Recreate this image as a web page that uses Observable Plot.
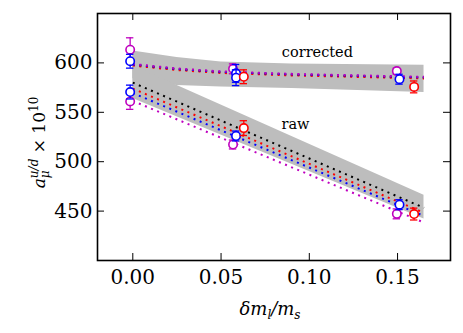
<!DOCTYPE html>
<html><head><meta charset="utf-8">
<script src="https://cdn.jsdelivr.net/npm/d3@7"></script>
<script src="https://cdn.jsdelivr.net/npm/@observablehq/plot@0.6"></script>
<style>body{margin:0;background:#fff} svg{font-family:"DejaVu Serif",serif}</style>
</head><body><div id="chart"></div>
<script>
const xTicks = [0, 0.05, 0.10, 0.15];
const yTicks = [450, 500, 550, 600];

// grey bands
const bandX = [0, 0.025, 0.05, 0.09, 0.165];
const corrUpper = [612, 605.5, 601, 599, 597.5];
const corrLower = [584, 577, 575.5, 574, 570];
const rawBandX = [0, 0.165];
const rawUpper = [597, 466];
const rawLower = [564, 442];

// dotted fit lines
const corrLineX = [0, 0.025, 0.05, 0.09, 0.165];
const corrBlack = [598, 593.5, 590.5, 588, 585];
const corrRed = [597.3, 592.8, 589.8, 587.3, 584.3];
const corrBlue = [598.4, 593.9, 590.9, 588.4, 585.4];
const corrMagenta = [598.9, 594.4, 591.4, 588.9, 585.9];
const rawLineX = [0, 0.165];
const rawBlack = [580, 453.3];
const rawRed = [574, 448.3];
const rawBlue = [569.5, 445];
const rawMagenta = [561.5, 438.4];

// data points
const magX = [-0.0015, 0.0568, 0.1496];
const blueX = [-0.0015, 0.0585, 0.1511];
const redX = [0.0629, 0.1594];
const corrMagY = [613.4, 594, 591.7], corrMagE = [12, 5, 3];
const corrBlueY = [601.7, 589.4, 583.5], corrBlueE = [7, 9, 5];
const corrBlue2X = [0.0585], corrBlue2Y = [585], corrBlue2E = [8];
const corrRedY = [586, 575.7], corrRedE = [7, 6];
const rawMagY = [561, 517.4, 447.2], rawMagE = [8, 4.5, 5];
const rawBlueY = [570.5, 526, 456.5], rawBlueE = [7, 5, 5];
const rawRedY = [534, 447], rawRedE = [7.5, 6];

const labelText = ["corrected", "raw"];
const labelX = [0.1046, 0.0922];
const labelY = [610.3, 538.2];

const MAG = "#bf00bf", BLUE = "#0000ff", RED = "#ff0000";

const W = 463, H = 333, mL = 97, mR = 13, mT = 13, mB = 73;
const iW = W - mL - mR, iH = H - mT - mB;

const zipBand = (xs, lo, hi) => xs.map((x, i) => ({x, y1: lo[i], y2: hi[i]}));
const zipLine = (xs, ys) => xs.map((x, i) => ({x, y: ys[i]}));
const zipPts = (xs, ys, es) => xs.map((x, i) => ({x, y: ys[i], e: es[i]}));

const dotted = {strokeWidth: 2, strokeDasharray: "2,4.6", strokeLinecap: "butt"};
const lineMarks = [];
for (const [ys, c] of [[corrBlack, "black"], [corrRed, RED], [corrBlue, BLUE], [corrMagenta, MAG]])
  lineMarks.push(Plot.line(zipLine(corrLineX, ys), {x: "x", y: "y", stroke: c, ...dotted}));
for (const [ys, c] of [[rawBlack, "black"], [rawRed, RED], [rawBlue, BLUE], [rawMagenta, MAG]])
  lineMarks.push(Plot.line(zipLine(rawLineX, ys), {x: "x", y: "y", stroke: c, ...dotted}));

function pts(data, c) {
  return [
    Plot.ruleX(data, {x: "x", y1: d => d.y - d.e, y2: d => d.y + d.e, stroke: c, strokeWidth: 1.3}),
    Plot.ruleY(data, {y: d => d.y - d.e, x1: d => d.x - 0.0021, x2: d => d.x + 0.0021, stroke: c, strokeWidth: 1.3}),
    Plot.ruleY(data, {y: d => d.y + d.e, x1: d => d.x - 0.0021, x2: d => d.x + 0.0021, stroke: c, strokeWidth: 1.3}),
    Plot.dot(data, {x: "x", y: "y", r: 4.2, fill: "white", stroke: c, strokeWidth: 1.6})
  ];
}

const plot = Plot.plot({
  width: W, height: H,
  marginLeft: mL, marginRight: mR, marginTop: mT, marginBottom: mB,
  x: {domain: [-0.02, 0.18]},
  y: {domain: [400, 650]},
  style: {fontFamily: "DejaVu Serif, serif", background: "white"},
  marks: [
    Plot.areaY(zipBand(bandX, corrLower, corrUpper), {x: "x", y1: "y1", y2: "y2", fill: "#bdbdbd"}),
    Plot.areaY(zipBand(rawBandX, rawLower, rawUpper), {x: "x", y1: "y1", y2: "y2", fill: "#bdbdbd"}),
    ...lineMarks,
    ...pts(zipPts(magX, corrMagY, corrMagE), MAG),
    ...pts(zipPts(blueX, corrBlueY, corrBlueE), BLUE),
    ...pts(zipPts(corrBlue2X, corrBlue2Y, corrBlue2E), BLUE),
    ...pts(zipPts(redX, corrRedY, corrRedE), RED),
    ...pts(zipPts(magX, rawMagY, rawMagE), MAG),
    ...pts(zipPts(blueX, rawBlueY, rawBlueE), BLUE),
    ...pts(zipPts(redX, rawRedY, rawRedE), RED),
    Plot.text(labelText.map((t, i) => ({t, x: labelX[i], y: labelY[i]})), {x: "x", y: "y", text: "t", fontSize: 14.5, fill: "black", textAnchor: "middle", lineAnchor: "middle"}),
    // inward ticks
    Plot.ruleX(xTicks, {x: d => d, insetTop: iH - 7, stroke: "black", strokeWidth: 1}),
    Plot.ruleX(xTicks, {x: d => d, insetBottom: iH - 7, stroke: "black", strokeWidth: 1}),
    Plot.ruleY(yTicks, {y: d => d, insetRight: iW - 7, stroke: "black", strokeWidth: 1}),
    Plot.ruleY(yTicks, {y: d => d, insetLeft: iW - 7, stroke: "black", strokeWidth: 1}),
    Plot.axisX({ticks: xTicks, tickSize: 0, tickPadding: 9, tickFormat: d3.format(".2f"), fontSize: 20, label: null}),
    Plot.axisY({ticks: yTicks, tickSize: 0, tickPadding: 5, tickFormat: d3.format("d"), fontSize: 20, label: null}),
    Plot.frame({stroke: "black", strokeWidth: 1.6})
  ]
});
document.getElementById("chart").appendChild(plot);

// axis titles with sub/superscripts
const svg = d3.select(plot);
const yl = svg.append("text")
  .attr("transform", "translate(45,142.5) rotate(-90)")
  .attr("text-anchor", "middle").attr("font-size", 17).attr("fill", "black");
yl.append("tspan").attr("font-style", "italic").text("a");
const sup = yl.append("tspan").attr("font-style", "italic").attr("font-size", 12).attr("dy", -7).text("u/d");
const sub = yl.append("tspan").attr("font-style", "italic").attr("font-size", 12).text("μ");
const supW = sup.node().getComputedTextLength();
const subW = sub.node().getComputedTextLength();
sub.attr("dx", -supW).attr("dy", 11);
yl.append("tspan").attr("dx", Math.max(0, supW - subW)).attr("dy", -4).text(" × 10");
yl.append("tspan").attr("font-size", 12).attr("dy", -7).text("10");

const xl = svg.append("text")
  .attr("x", 270).attr("y", 315)
  .attr("text-anchor", "middle").attr("font-size", 18).attr("fill", "black").attr("font-style", "italic");
xl.append("tspan").text("δm");
xl.append("tspan").attr("font-size", 12).attr("dy", 4).text("l");
xl.append("tspan").attr("dy", -4).text("/m");
xl.append("tspan").attr("font-size", 12).attr("dy", 4).text("s");
</script>
</body></html>
